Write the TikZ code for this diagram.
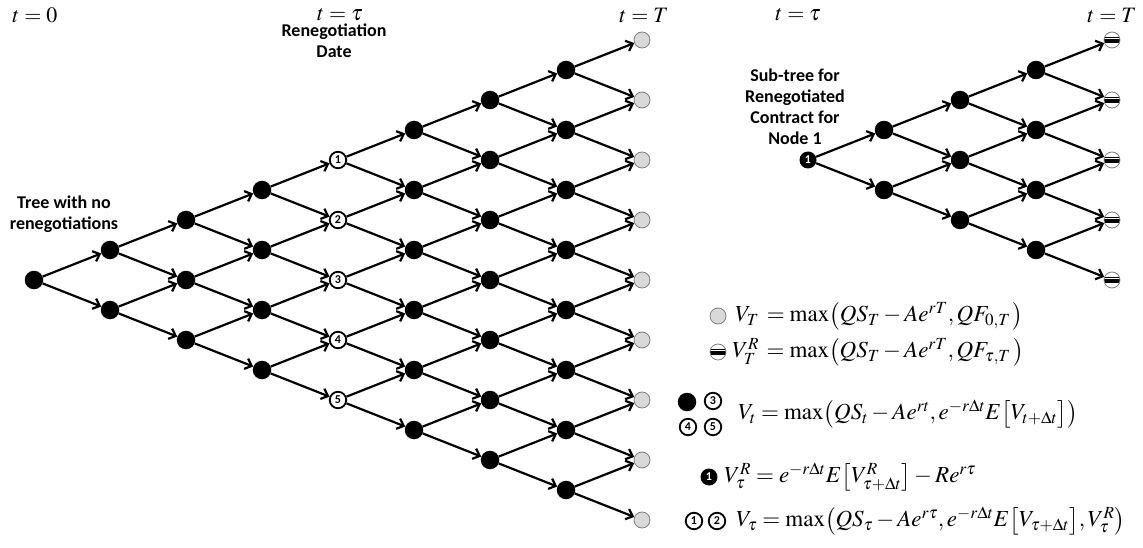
\documentclass[tikz,border=0pt]{standalone}
\usepackage{mathptmx}
\usepackage[no-math]{fontspec}
\newfontfamily\calibfont{Carlito}
\usetikzlibrary{arrows.meta}
\definecolor{termgray}{HTML}{D9D9D9}
\definecolor{termedge}{HTML}{7F7F7F}
\begin{document}
\begin{tikzpicture}[x=1pt,y=-1pt,
  edge/.style={line width=2.2pt, -{Straight Barb[length=6pt,width=11pt]}},
  blk/.style={circle, fill=black, minimum size=18.5pt, inner sep=0pt},
  term/.style={circle, fill=termgray, draw=termedge, line width=0.8pt, minimum size=16pt, inner sep=0pt},
  numd/.style={circle, fill=white, draw=black, line width=1.8pt, minimum size=16.5pt, inner sep=0pt, font=\calibfont\bfseries\fontsize{12}{12}\selectfont},
  numb/.style={circle, fill=black, text=white, minimum size=17pt, inner sep=0pt, font=\calibfont\bfseries\fontsize{12}{12}\selectfont},
  strp/.style={circle, draw=termedge, fill=white, line width=0.8pt, minimum size=16pt, inner sep=0pt,
    path picture={
      \fill[black] ([yshift=3.2pt]path picture bounding box.west) rectangle ([yshift=2.2pt]path picture bounding box.east);
      \fill[black] ([yshift=1.2pt]path picture bounding box.west) rectangle ([yshift=-2.8pt]path picture bounding box.east);
    }},
  lbl/.style={font=\calibfont\bfseries\fontsize{18}{21}\selectfont, align=center, inner sep=0pt},
  tl/.style={font=\fontsize{22}{26}\selectfont, inner sep=0pt},
  fm/.style={font=\fontsize{23}{27}\selectfont, anchor=west, inner sep=0pt}
]
\useasboundingbox (0,0) rectangle (1143,548);

% time labels
\node[tl] (t0) at (35,15) {$t=0$};
\node[tl] (t1) at (340,15) {$t=\tau$};
\node[tl] (t2) at (644,15) {$t=T$};
\node[tl] (t3) at (798,15) {$t=\tau$};
\node[tl] (t4) at (1112,15) {$t=T$};

% text labels
\node[lbl] (reneg) at (334,41) {Renegotiation\\Date};
\node[lbl] (notree) at (64,214) {Tree with no\\renegotiations};
\node[lbl] (subt) at (795,107) {Sub-tree for\\Renegotiated\\Contract for\\Node 1};

% main tree nodes
\foreach \k in {0,...,8}{
  \foreach \j in {0,...,\k}{
    \pgfmathsetmacro\xx{34+76*\k}
    \pgfmathsetmacro\yy{280-30*\k+60*\j}
    \ifnum\k=8
      \node[term] (m-\k-\j) at (\xx,\yy) {};
    \else\ifnum\k=4
      \pgfmathtruncatemacro\nn{\j+1}
      \node[numd] (m-\k-\j) at (\xx,\yy) {\nn};
    \else
      \node[blk] (m-\k-\j) at (\xx,\yy) {};
    \fi\fi
  }
}
\foreach \k in {0,...,7}{
  \pgfmathtruncatemacro\kn{\k+1}
  \foreach \j in {0,...,\k}{
    \pgfmathtruncatemacro\jn{\j+1}
    \draw[edge] (m-\k-\j) -- (m-\kn-\j);
    \draw[edge] (m-\k-\j) -- (m-\kn-\jn);
  }
}

% sub-tree nodes
\foreach \k in {0,...,4}{
  \foreach \j in {0,...,\k}{
    \pgfmathsetmacro\xx{808+76*\k}
    \pgfmathsetmacro\yy{160-30*\k+60*\j}
    \ifnum\k=4
      \node[strp] (s-\k-\j) at (\xx,\yy) {};
    \else\ifnum\k=0
      \node[numb] (s-\k-\j) at (\xx,\yy) {1};
    \else
      \node[blk] (s-\k-\j) at (\xx,\yy) {};
    \fi\fi
  }
}
\foreach \k in {0,...,3}{
  \pgfmathtruncatemacro\kn{\k+1}
  \foreach \j in {0,...,\k}{
    \pgfmathtruncatemacro\jn{\j+1}
    \draw[edge] (s-\k-\j) -- (s-\kn-\j);
    \draw[edge] (s-\k-\j) -- (s-\kn-\jn);
  }
}

% legend
\node[term] (lg1) at (718,316) {};
\node[fm] (f1) at (735,316) {$V_T\, = \max\bigl(QS_T - Ae^{rT}, QF_{0,T}\,\bigr)$};
\node[strp] (lg2) at (718,352) {};
\node[fm] (f2) at (732,352) {$V_T^R\, = \max\bigl(QS_T - Ae^{rT}, QF_{\tau,T}\,\bigr)$};
\node[blk] (lg3) at (687,402) {};
\node[numd] (lg4) at (713,401) {3};
\node[numd] (lg5) at (688,427) {4};
\node[numd] (lg6) at (713,427) {5};
\node[fm] (f3) at (738,414) {$V_t = \max\bigl(QS_t - Ae^{rt}, e^{-r\Delta t}E\bigl[V_{t+\Delta t}\bigr]\bigr)$};
\node[numb] (lg7) at (709,477) {1};
\node[fm] (f4) at (724,477) {$V_\tau^R = e^{-r\Delta t}E\bigl[V^R_{\tau+\Delta t}\bigr] - Re^{r\tau}$};
\node[numd] (lg8) at (694,521) {1};
\node[numd] (lg9) at (717,521) {2};
\node[fm] (f5) at (736,521) {$V_\tau = \max\bigl(QS_\tau - Ae^{r\tau}, e^{-r\Delta t}E\bigl[V_{\tau+\Delta t}\bigr], V_\tau^R\bigr)$};
\end{tikzpicture}
\end{document}
